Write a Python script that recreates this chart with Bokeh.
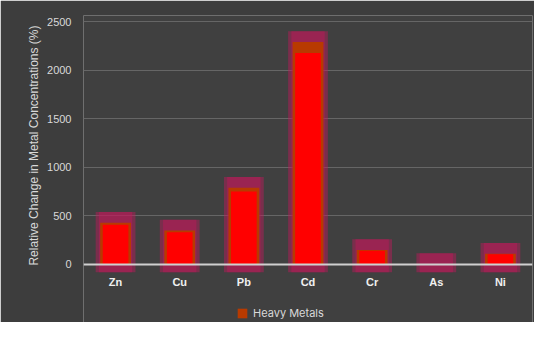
from bokeh.plotting import figure
from bokeh.models import Range1d, Span, Legend, LegendItem, ColumnDataSource, Title
from bokeh.core.properties import value
from bokeh.embed import file_html
from bokeh.resources import INLINE

metals = ["Zn", "Cu", "Pb", "Cd", "Cr", "As", "Ni"]
change = [430, 350, 790, 2290, 150, 5, 110]
y_ticks = [0, 500, 1000, 1500, 2000, 2500]

glow_top = [v + 110 for v in change]
red_top = [v * 0.95 for v in change]
label_y = [-180] * len(metals)
src = ColumnDataSource(dict(x=metals, top=change, glow=glow_top, red=red_top, ly=label_y))

p = figure(width=534, height=322, x_range=metals, y_range=Range1d(-597, 2562),
           output_backend="svg", toolbar_location=None,
           background_fill_color="#404040", border_fill_color="#3d3d3d",
           min_border_left=83, min_border_right=2, min_border_top=15, min_border_bottom=0)
p.outline_line_color = None

# glow
p.vbar(x="x", top="glow", bottom=-80, width=0.62, source=src,
       fill_color="#c0185a", fill_alpha=0.45, line_color=None)
p.vbar(x="x", top="glow", bottom=-80, width=0.52, source=src,
       fill_color="#c0185a", fill_alpha=0.45, line_color=None)
bars = p.vbar(x="x", top="top", bottom=0, width=0.48, source=src,
              fill_color="#b83a00", line_color=None)
p.vbar(x="x", top="red", bottom=0, width=0.4, source=src,
       fill_color="#ff0000", line_color=None)

p.add_layout(Span(location=0, dimension="width", line_color="#d0d0d0", line_width=2))

# category labels
p.text(x="x", y="ly", text="x", source=src, text_align="center", text_baseline="middle",
       text_color="#f0f0f0", text_font=value("Liberation Sans"), text_font_style="bold",
       text_font_size="11px")

p.xaxis.visible = False
p.xgrid.grid_line_color = None
p.ygrid.grid_line_color = "#666666"
p.ygrid.grid_line_width = 1
p.yaxis.ticker = y_ticks
p.yaxis.axis_line_color = None
p.yaxis.major_tick_line_color = None
p.yaxis.minor_tick_line_color = None
p.yaxis.major_label_text_color = "#d9d9d9"
p.yaxis.major_label_text_font = "Liberation Sans"
p.yaxis.major_label_text_font_size = "11px"
p.yaxis.major_label_standoff = 6

p.add_layout(Title(text="Relative Change in Metal Concentrations (%)", align="right",
                   text_color="#d9d9d9", text_font="Liberation Sans",
                   text_font_style="normal", text_font_size="12px",
                   offset=10, standoff=8), "left")

legend = Legend(items=[LegendItem(label="Heavy Metals", renderers=[bars])],
                location=(153, 2), orientation="horizontal",
                background_fill_alpha=0, border_line_color=None,
                label_text_color="#d9d9d9", label_text_font="Inter",
                label_text_font_size="11px", glyph_width=12, glyph_height=12,
                margin=0, padding=2)
p.add_layout(legend)

open("out.html", "w").write(file_html(p, INLINE))
